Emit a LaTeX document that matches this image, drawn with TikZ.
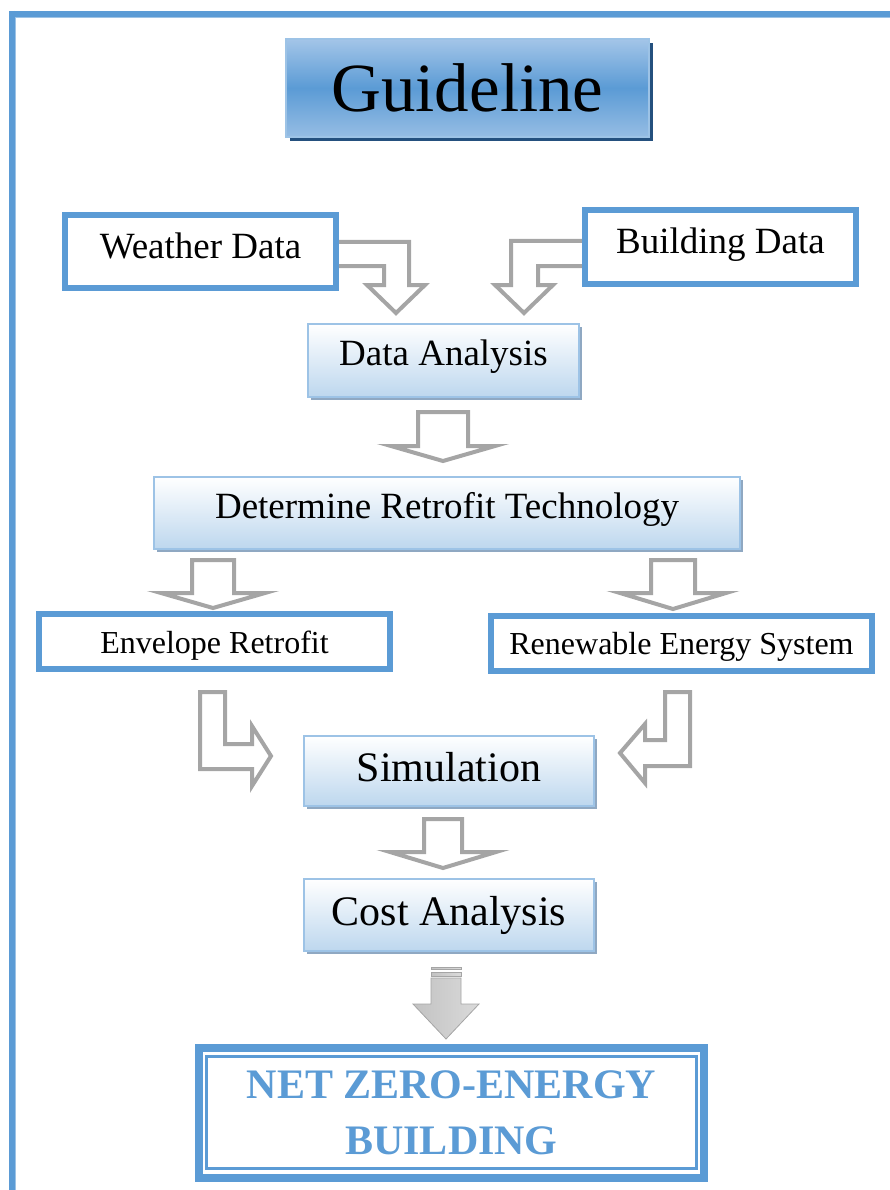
\documentclass[tikz,border=0pt]{standalone}
\usepackage{fontspec}
\setmainfont{Liberation Serif}
\usetikzlibrary{shadows,calc,backgrounds}

\definecolor{accent}{HTML}{5B9BD5}
\definecolor{accentlight}{HTML}{9DC3E6}
\definecolor{arrowgrey}{HTML}{A5A5A5}
\definecolor{boxbottom}{HTML}{BDD7EE}
\definecolor{boxshadow}{HTML}{8FA8C2}
\definecolor{titleshadow}{HTML}{24507E}
\definecolor{titletop}{HTML}{A3C5E8}
\definecolor{titlebottom}{HTML}{96BDE4}
\definecolor{solidlight}{HTML}{DADADA}
\definecolor{soliddark}{HTML}{C2C2C2}

\newcommand\fsz[1]{\fontsize{#1}{#1}\selectfont}
% straight block arrow pointing down: centre x, top, head base, tip, shaft half width, head half width
\newcommand\downblock[6]{%
  \draw[blockarrow] (#1-#5,#2) -- (#1+#5,#2) -- (#1+#5,#3) -- (#1+#6,#3)
    -- (#1,#4) -- (#1-#6,#3) -- (#1-#5,#3) -- cycle;}

\begin{document}
\begin{tikzpicture}[x=1pt,y=-1pt,
  bluebox/.style={draw=accent,line width=6pt,fill=white,inner sep=0pt,outer sep=0pt,
    text height=#1,text depth=0pt},
  softbox/.style={draw=accentlight,line width=1.5pt,top color=white,bottom color=boxbottom,
    inner sep=0pt,outer sep=0pt,
    general shadow={fill=boxshadow,shadow xshift=3pt,shadow yshift=-3pt},
    text height=#1,text depth=0pt},
  blockarrow/.style={draw=arrowgrey,line width=4pt,fill=white,line join=miter},
  solidarrow/.style={draw=arrowgrey,line width=0.8pt,left color=soliddark,right color=solidlight},
]
\path[use as bounding box] (0,0) rectangle (890,1190);

% page frame
\draw[accent,line width=6pt] (9,14) -- (893,14);
\draw[accent,line width=6pt] (12,11) -- (12,1193);
\draw[accentlight,line width=1pt] (15.5,17.5) -- (893,17.5);
\draw[accentlight,line width=1pt] (15.5,17.5) -- (15.5,1193);

% title
\node[draw=accentlight,line width=1.5pt,top color=titletop,bottom color=titlebottom,
  middle color=accent,minimum width=363,minimum height=98,inner sep=0pt,outer sep=0pt,
  general shadow={fill=titleshadow,shadow xshift=4pt,shadow yshift=-4pt},
  font=\fsz{69}] (title) at (467.5,88) {Guideline};

% inputs
\node[bluebox=13.6pt,minimum width=271,minimum height=73,font=\fsz{37}] (weather) at (200.5,251.5) {Weather Data};
\node[bluebox=14pt,minimum width=271,minimum height=74,font=\fsz{37}] (building) at (720.5,247) {Building Data};

% process steps
\node[softbox=10.4pt,minimum width=271,minimum height=73,font=\fsz{37}] (analysis) at (443.5,360.5) {Data Analysis};
\node[softbox=11pt,minimum width=586,minimum height=72,font=\fsz{37}] (determine) at (447,513) {Determine Retrofit Technology};
\node[bluebox=23.6pt,minimum width=351,minimum height=55,font=\fsz{32}] (envelope) at (214.5,641.5) {Envelope Retrofit};
\node[bluebox=21.6pt,minimum width=381,minimum height=55,font=\fsz{32}] (renewable) at (681.5,643.5) {Renewable Energy System};
\node[softbox=21.4pt,minimum width=290,minimum height=70,font=\fsz{42}] (simulation) at (449,771) {Simulation};
\node[softbox=20pt,minimum width=290,minimum height=72,font=\fsz{42}] (cost) at (449,915) {Cost Analysis};

% goal
\node[draw=accent,line width=8pt,fill=white,minimum width=505,minimum height=130,
  inner sep=0pt,outer sep=0pt,align=center,text=accent,
  font=\fontsize{42}{56}\selectfont\bfseries] (nzeb) at (451.5,1113) {NET ZERO-ENERGY\\BUILDING};
\draw[accent,line width=2.5pt] ($(nzeb.north west)+(7.5,8.5)$) rectangle ($(nzeb.south east)+(-7.5,-9.5)$);

% connectors
\begin{scope}[on background layer]
  % weather -> analysis
  \draw[blockarrow] (330,242) -- (409,242) -- (409,285) -- (425,285) -- (396,313)
    -- (367,285) -- (384,285) -- (384,266) -- (330,266) -- cycle;
  % building -> analysis
  \draw[blockarrow] (590,241) -- (511,241) -- (511,285) -- (495,285) -- (524,313)
    -- (553,285) -- (538,285) -- (538,266) -- (590,266) -- cycle;
  % analysis -> determine
  \downblock{443}{412}{446}{461}{25}{52}
  % determine -> envelope / renewable
  \downblock{213}{560}{593}{608}{21}{52}
  \downblock{673}{560}{593}{609}{22}{53}
  % envelope -> simulation
  \draw[blockarrow] (200,692) -- (225,692) -- (225,744) -- (252,744) -- (252,726)
    -- (271,756) -- (252,786) -- (252,769) -- (200,769) -- cycle;
  % renewable -> simulation
  \draw[blockarrow] (690,692) -- (665,692) -- (665,740) -- (645,740) -- (645,724)
    -- (620,753) -- (645,783) -- (645,766) -- (690,766) -- cycle;
  % simulation -> cost
  \downblock{443}{819}{852}{868}{19}{53}
  % cost -> goal
  \draw[solidarrow] (431,967) rectangle (461,969.5);
  \draw[solidarrow] (431,972) rectangle (461,976.5);
  \draw[solidarrow] (431,978) -- (461,978) -- (461,1004) -- (479,1004) -- (446,1039)
    -- (413,1004) -- (431,1004) -- cycle;
\end{scope}
\end{tikzpicture}
\end{document}
